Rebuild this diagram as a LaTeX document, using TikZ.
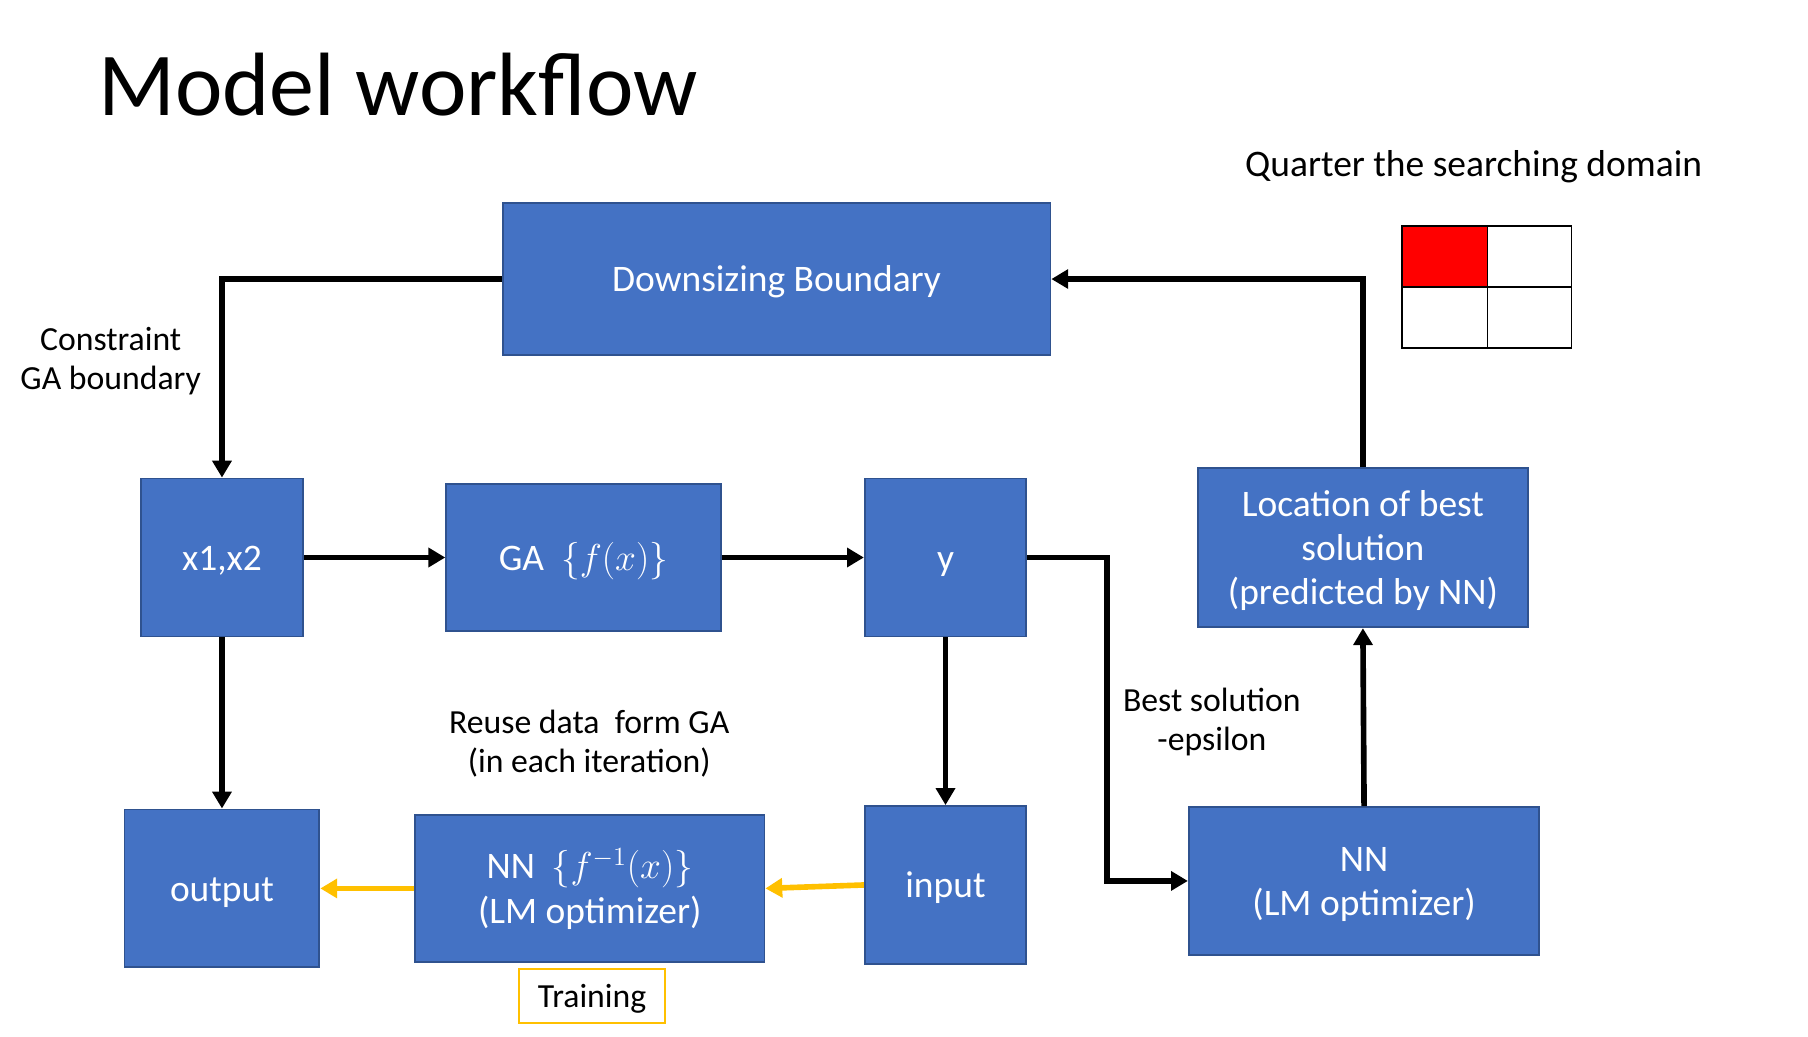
\documentclass[tikz,border=0pt]{standalone}
\usepackage{fix-cm}
\usepackage{fontspec}
\setmainfont{Carlito}
\usetikzlibrary{arrows.meta}
\newlength\dpx
\setlength\dpx{0.6154pt}
\newcommand\topstrut{\rule{0pt}{0.98em}}
\newcommand\botstrut{\rule[-0.3em]{0pt}{0.3em}}
\definecolor{boxblue}{HTML}{4472C4}
\definecolor{boxedge}{HTML}{2F528F}
\definecolor{gold}{HTML}{FFC000}
\tikzset{
  blockbox/.style={draw=boxedge, line width=1pt, fill=boxblue, text=white,
    inner sep=0pt, align=center, font=\fontsize{20}{23.7}\selectfont},
  conn/.style={line width=3pt, -{Triangle[length=9pt,width=10pt]}},
  yconn/.style={conn, color=gold},
  lbltext/.style={align=center, inner sep=0pt, font=\fontsize{18}{21}\selectfont},
  trainbox/.style={draw=gold, line width=1pt, fill=white, inner sep=0pt,
    font=\fontsize{18}{21}\selectfont},
}
\begin{document}
\begin{tikzpicture}[x=0.6154pt, y=-0.6154pt]
\useasboundingbox (0,0) rectangle (1568,899.3);

% title and headings
\node[anchor=base west, inner sep=0pt, font=\fontsize{48}{52}\selectfont] (title) at (85,100) {Model workflow};
\node[inner sep=0pt, font=\fontsize{20}{24}\selectfont] (quarter) at (1278,145) {Quarter the searching domain};

% quarter grid
\fill[red] (1216,196) rectangle (1290,249);
\draw[line width=0.8pt] (1216,196) rectangle (1363,302);
\draw[line width=0.8pt] (1290,196) -- (1290,302);
\draw[line width=0.8pt] (1216,249) -- (1363,249);

% boxes
\node[blockbox, minimum width=475\dpx, minimum height=132\dpx] (down) at (673.5,242) {\topstrut Downsizing Boundary\botstrut};
\node[blockbox, minimum width=141\dpx, minimum height=137\dpx] (x12) at (192.5,483.5) {\topstrut x1,x2\botstrut};
\node[blockbox, minimum width=238\dpx, minimum height=127\dpx] (ga) at (506,483.5) {\topstrut GA~~$\{f(x)\}$\botstrut};
\node[blockbox, minimum width=140\dpx, minimum height=137\dpx] (yb) at (820,483.5) {\topstrut y\botstrut};
\node[blockbox, minimum width=286\dpx, minimum height=138\dpx] (loc) at (1182,475) {\topstrut Location of best\\solution\\(predicted by NN)\botstrut};
\node[blockbox, minimum width=169\dpx, minimum height=137\dpx] (out) at (192.5,770.5) {\topstrut output\botstrut};
\node[blockbox, minimum width=303\dpx, minimum height=127\dpx] (nnl) at (511.5,770.5) {\topstrut NN~~$\{f^{-1}(x)\}$\\(LM optimizer)\botstrut};
\node[blockbox, minimum width=140\dpx, minimum height=137\dpx] (inp) at (820,767.5) {\topstrut input\botstrut};
\node[blockbox, minimum width=304\dpx, minimum height=128\dpx] (nnr) at (1183,764) {\topstrut NN\\(LM optimizer)\botstrut};
\node[trainbox, minimum width=127\dpx, minimum height=47\dpx] (train) at (513.5,863.5) {\topstrut Training\botstrut};

% labels
\node[lbltext] (cons) at (96,313) {Constraint\\GA boundary};
\node[lbltext] (reuse) at (511,645) {Reuse data\ \ form GA\\(in each iteration)};
\node[lbltext] (best) at (1051,626) {Best solution\\-epsilon};

% connectors
\draw[conn] (down.west) -| (x12.north);
\draw[conn] (loc.north) |- (down.east);
\draw[conn] (x12.east) -- (ga.west);
\draw[conn] (ga.east) -- (yb.west);
\coordinate (bend) at (960,483.5);
\draw[conn] (yb.east) -- (bend) |- (nnr.west);
\draw[conn] (nnr.north) -- (loc.south);
\draw[conn] (x12.south) -- (out.north);
\draw[conn] (yb.south) -- (inp.north);
\draw[yconn] (inp.west) -- (nnl.east);
\draw[yconn] (nnl.west) -- (out.east);
\end{tikzpicture}
\end{document}
